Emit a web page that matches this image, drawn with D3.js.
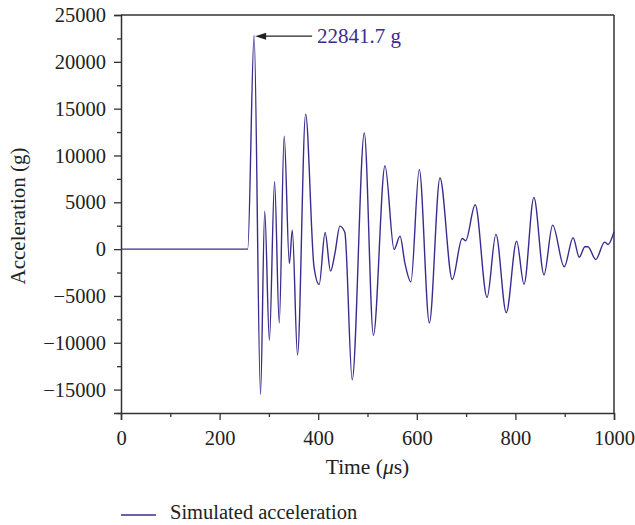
<!DOCTYPE html>
<html>
<head>
<meta charset="utf-8">
<script src="https://cdn.jsdelivr.net/npm/d3@7"></script>
<style>
  html, body { margin: 0; padding: 0; background: #fff; }
  svg { display: block; }
  text { font-family: "Liberation Serif", "DejaVu Serif", serif; }
</style>
</head>
<body>
<svg id="chart" width="635" height="525"></svg>
<script>
// ---- data ----
const timeUs = [0, 257, 270, 283, 291.5, 301, 311.5, 321, 331, 341.5, 347.5, 358, 374.5, 391.5, 402, 414, 425, 434, 444, 454, 469, 493.5, 512, 535.5, 554, 566, 576, 588, 605, 625.5, 647, 672, 692, 699, 718.5, 742.5, 760.5, 781.5, 802.5, 817.5, 837.5, 858, 875.5, 899, 917, 929.5, 941, 947, 963, 981, 988, 1000];
const accelG = [0, 0, 22841.7, -15530, 4060, -9720, 7190, -7870, 12070, -1530, 2030, -11320, 14420, -1890, -3770, 1780, -2350, -430, 2460, 1800, -13950, 12400, -9190, 8900, -30, 1390, -1530, -3490, 8510, -7870, 7600, -3240, 1140, 900, 4730, -5160, 1570, -6780, 850, -3760, 5520, -2740, 2560, -1890, 1210, -860, 250, 250, -1100, 750, 500, 1850];
const xTicks = [0, 200, 400, 600, 800, 1000];
const xMinorTicks = [100, 300, 500, 700, 900];
const yTicks = [-15000, -10000, -5000, 0, 5000, 10000, 15000, 20000, 25000];
const yMinorTicks = [-17500, -12500, -7500, -2500, 2500, 7500, 12500, 17500, 22500];
const peakTime = 270;
const peakValue = 22841.7;
const peakLabel = "22841.7 g";
const seriesName = "Simulated acceleration";
const xTitle = "Time (";
const yTitle = "Acceleration (g)";

// ---- layout ----
const svg = d3.select("#chart");
const m = { left: 121, right: 614, top: 15, bottom: 413 };
const lineColor = "#3a2c8e";
const axisColor = "#333";

const x = d3.scaleLinear().domain([0, 1000]).range([m.left, m.right]);
const y = d3.scaleLinear().domain([-17500, 25000]).range([m.bottom, m.top]);

const fmt = d => d < 0 ? "\u2212" + Math.abs(d) : String(d);

// x axis major
svg.append("g").attr("transform", `translate(0,${m.bottom})`)
  .call(d3.axisBottom(x).tickValues(xTicks).tickSize(7).tickPadding(10).tickFormat(fmt));
// x axis minor
svg.append("g").attr("transform", `translate(0,${m.bottom})`)
  .call(d3.axisBottom(x).tickValues(xMinorTicks).tickSize(4).tickFormat(""))
  .call(g => g.select(".domain").remove());
// y axis major
svg.append("g").attr("transform", `translate(${m.left},0)`)
  .call(d3.axisLeft(y).tickValues(yTicks).tickSize(7).tickPadding(8).tickFormat(fmt));
// y minor
svg.append("g").attr("transform", `translate(${m.left},0)`)
  .call(d3.axisLeft(y).tickValues(yMinorTicks).tickSize(4).tickFormat(""))
  .call(g => g.select(".domain").remove());

svg.selectAll(".tick line").attr("stroke", axisColor).attr("stroke-width", 1.3);
svg.selectAll(".domain").attr("stroke", axisColor).attr("stroke-width", 1.5);
svg.selectAll(".tick text").attr("fill", "#222").style("font-size", "20.5px")
  .style("font-family", "'Liberation Serif', serif");

// frame top and right
svg.append("line").attr("x1", m.left).attr("x2", m.right).attr("y1", m.top).attr("y2", m.top)
  .attr("stroke", axisColor).attr("stroke-width", 1.5);
svg.append("line").attr("x1", m.right).attr("x2", m.right).attr("y1", m.top).attr("y2", m.bottom)
  .attr("stroke", axisColor).attr("stroke-width", 1.5);

// series
const pts = timeUs.map((t, i) => [t, accelG[i]]);
svg.append("path")
  .datum(pts)
  .attr("fill", "none")
  .attr("stroke", lineColor)
  .attr("stroke-width", 1.4)
  .attr("stroke-linejoin", "round")
  .attr("d", d3.line().x(d => x(d[0])).y(d => y(d[1])).curve(d3.curveMonotoneX));

// annotation arrow
const tipX = x(peakTime) + 1, tipY = y(peakValue) + 1;
svg.append("line").attr("x1", tipX + 8).attr("x2", tipX + 57).attr("y1", tipY).attr("y2", tipY)
  .attr("stroke", "#222").attr("stroke-width", 1.3);
svg.append("path")
  .attr("d", `M${tipX},${tipY} L${tipX + 11},${tipY - 3.5} L${tipX + 11},${tipY + 3.5} Z`)
  .attr("fill", "#222");
svg.append("text").attr("x", tipX + 62).attr("y", tipY + 7)
  .attr("fill", lineColor).style("font-size", "21px").text(peakLabel);

// axis titles
const xt = svg.append("text").attr("x", (m.left + m.right) / 2).attr("y", 474)
  .attr("text-anchor", "middle").attr("fill", "#222").style("font-size", "21.5px");
xt.append("tspan").text(xTitle);
xt.append("tspan").style("font-style", "italic").text("\u03bc");
xt.append("tspan").text("s)");

svg.append("text")
  .attr("transform", `translate(25,${(m.top + m.bottom) / 2 + 2}) rotate(-90)`)
  .attr("text-anchor", "middle").attr("fill", "#222").style("font-size", "21px")
  .text(yTitle);

// legend
svg.append("line").attr("x1", 121).attr("x2", 156).attr("y1", 515).attr("y2", 515)
  .attr("stroke", lineColor).attr("stroke-width", 1.5);
svg.append("text").attr("x", 170).attr("y", 519).attr("fill", "#222")
  .style("font-size", "20.5px").text(seriesName);
</script>
</body>
</html>
